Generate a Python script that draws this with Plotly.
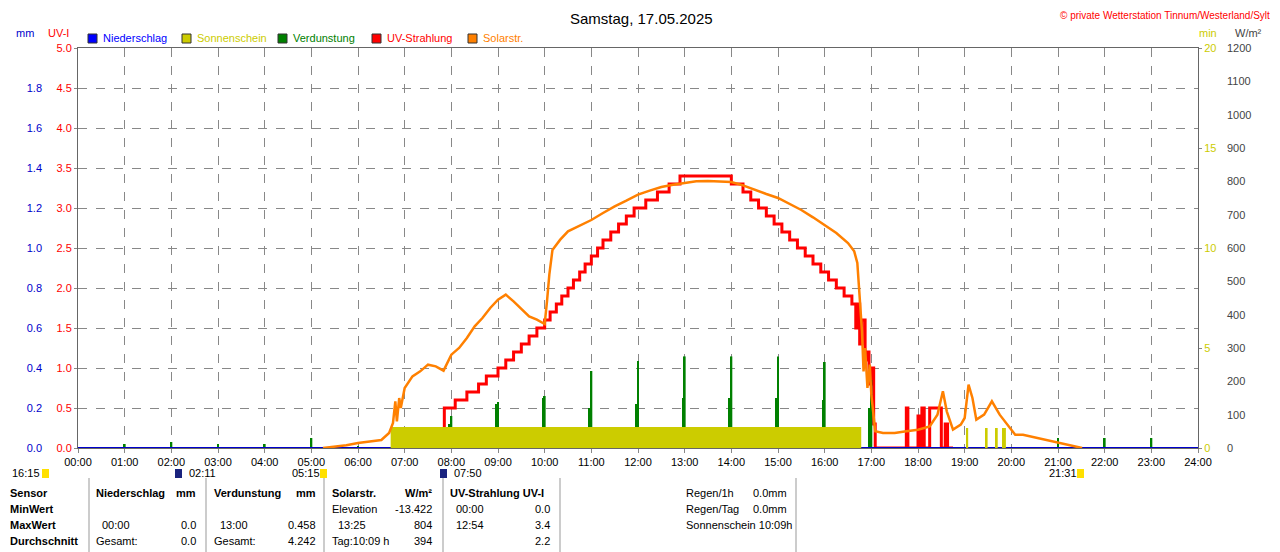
import plotly.graph_objects as go

D = "2025-05-17 "
def T(s): return D + s + ":00" if len(s) == 5 else s

# Solar radiation W/m²
solar_t = ["05:15","05:45","06:00","06:15","06:30","06:40","06:45","06:48","06:50","06:53","06:55","07:00","07:10","07:20","07:30","07:40","07:50","08:00","08:10","08:20","08:30","08:40","08:50","09:00","09:10","09:20","09:30","09:40","09:50","10:00","10:03","10:06","10:10","10:20","10:30","10:45","11:00","11:15","11:30","11:45","12:00","12:15","12:30","12:45","13:00","13:15","13:30","13:45","14:00","14:15","14:30","14:45","15:00","15:15","15:30","15:45","16:00","16:15","16:30","16:38","16:42","16:45","16:48","16:50","16:52","16:55","16:58","17:00","17:02","17:05","17:15","17:30","17:45","18:00","18:15","18:25","18:32","18:37","18:45","18:55","19:00","19:05","19:10","19:15","19:25","19:30","19:35","19:45","19:55","20:05","20:15","20:30","20:45","21:00","21:15","21:31"]
solar_v = [0,8,15,20,24,45,75,140,80,150,120,180,215,230,250,245,232,280,300,330,365,390,420,445,460,440,418,395,385,372,440,520,594,625,650,668,684,705,725,742,760,772,783,790,795,800,801,800,798,788,774,762,750,733,714,692,669,645,615,590,555,444,350,230,300,180,250,160,110,50,45,45,50,55,65,100,170,110,55,70,90,190,150,85,100,120,140,100,70,40,40,32,25,18,8,0]

# UV index (step)
uv_t = ["07:50","07:51","08:05","08:20","08:35","08:45","09:00","09:10","09:20","09:30","09:40","09:50","10:00","10:07","10:15","10:22","10:30","10:37","10:45","10:52","11:00","11:08","11:15","11:25","11:35","11:45","11:55","12:10","12:25","12:40","12:54","14:00","14:15","14:25","14:35","14:45","14:55","15:05","15:15","15:25","15:35","15:45","15:55","16:05","16:15","16:25","16:35","16:40","16:42","16:45","16:48","16:52","16:55","16:57","17:00","17:03","17:05","17:45","17:47","18:00","18:02","18:05","18:08","18:15","18:30","18:35","18:38","18:45"]
uv_v = [0.0,0.5,0.6,0.7,0.8,0.9,1.0,1.1,1.2,1.3,1.4,1.5,1.6,1.7,1.8,1.9,2.0,2.1,2.2,2.3,2.4,2.5,2.6,2.7,2.8,2.9,3.0,3.1,3.2,3.3,3.4,3.3,3.2,3.1,3.0,2.9,2.8,2.7,2.6,2.5,2.4,2.3,2.2,2.1,2.0,1.9,1.8,1.5,1.8,1.3,1.6,1.1,1.2,0.8,1.0,0.3,0.0,0.5,0.0,0.4,0.0,0.5,0.0,0.5,0.0,0.3,0.0,0.0]

# Evaporation mm (hourly spikes)
evap_t = ["01:00","02:00","03:00","04:00","05:00","06:00","07:00","08:00","09:00","10:00","11:00","12:00","13:00","14:00","15:00","16:00","17:00","22:00","23:00","21:00"]
evap_v = [0.02,0.03,0.02,0.02,0.05,0.01,0.055,0.16,0.23,0.26,0.385,0.435,0.458,0.458,0.458,0.43,0.34,0.05,0.05,0.05]
evap2_t = ["08:58","09:58","10:58","11:58","12:58","13:58","14:58","15:58","16:58","07:58"]
evap2_v = [0.22,0.25,0.2,0.22,0.25,0.25,0.25,0.24,0.2,0.12]

# Sunshine minutes
sun_t = ["06:42","19:02","19:27","19:40","19:48"]
sun_v = [1.05, 1.0, 1.0, 1.0, 1.0]
sun_w = [605*60000, 150000, 150000, 150000, 300000]

rain_v = [0, 0]
hours = ["%02d:00" % h for h in range(25)]

fig = go.Figure()
fig.add_trace(go.Bar(x=[T(t) for t in sun_t], y=sun_v, width=sun_w, offset=0, marker_color="#CCCC00", marker_line_width=0, yaxis="y3"))
fig.add_trace(go.Bar(x=[T(t) for t in evap_t], y=evap_v, width=150000, marker_color="#008000", marker_line_width=0, yaxis="y2"))
fig.add_trace(go.Bar(x=[T(t) for t in evap2_t], y=evap2_v, width=150000, marker_color="#008000", marker_line_width=0, yaxis="y2"))
fig.add_trace(go.Scatter(x=[D+"00:00:00", "2025-05-18 00:00:00"], y=rain_v, mode="lines", line=dict(color="#0000CC", width=2), yaxis="y2"))
fig.add_trace(go.Scatter(x=[T(t) for t in solar_t], y=solar_v, mode="lines", line=dict(color="#FF8000", width=2.5), yaxis="y4"))
fig.add_trace(go.Scatter(x=[T(t) for t in uv_t], y=uv_v, mode="lines", line=dict(color="#FF0000", width=3, shape="hv"), yaxis="y"))

OFF = 8
W, H = 1280 - OFF, 552 - OFF
def px(x): return (x - OFF) / W
def py(y): return 1 - (y - OFF) / H

grid = dict(showgrid=True, gridcolor="#888", griddash="dash", gridwidth=1)
tf = dict(family="Liberation Sans", size=11)

fig.update_layout(
    width=W, height=H, margin=dict(l=0, r=0, t=0, b=0, autoexpand=False),
    paper_bgcolor="white", plot_bgcolor="white", showlegend=False, barmode="overlay",
    font=tf,
    xaxis=dict(domain=[px(78), px(1198)], type="date", range=[D+"00:00:00", "2025-05-18 00:00:00"], automargin=False,
               tickvals=[D+h+":00" if h != "24:00" else "2025-05-18 00:00:00" for h in hours], ticktext=hours,
               ticks="outside", ticklen=4, tickcolor="#888", showline=True, linecolor="#666", mirror=True,
               tickfont=dict(color="black", **tf), **grid),
    yaxis=dict(domain=[py(448), py(48)], range=[0, 5], tickvals=[i*0.5 for i in range(11)], automargin=False,
               tickformat=".1f", tickfont=dict(color="red", **tf), showline=True, linecolor="#666", mirror=True,
               ticks="outside", ticklen=3, tickcolor="#888", **grid, zeroline=False),
    yaxis2=dict(overlaying="y", range=[0, 2], anchor="free", position=px(42), side="left", automargin=False,
                tickvals=[i*0.2 for i in range(10)], tickformat=".1f", showgrid=False, zeroline=False,
                tickfont=dict(color="#0000CC", **tf)),
    yaxis3=dict(overlaying="y", range=[0, 20], anchor="x", side="right", tickvals=[0, 5, 10, 15, 20], automargin=False,
                showgrid=False, zeroline=False, ticks="outside", ticklen=3, tickcolor="#888",
                tickfont=dict(color="#CCCC00", **tf)),
    yaxis4=dict(overlaying="y", range=[0, 1200], anchor="free", position=px(1226), side="right", automargin=False,
                tickvals=list(range(0, 1201, 100)), showgrid=False, zeroline=False,
                tickfont=dict(color="#444", **tf)),
)

ann = []
def A(x, y, text, color="black", xa="left", size=11, bold=False):
    ann.append(dict(x=px(x), y=py(y), xref="paper", yref="paper", text=("<b>%s</b>" % text if bold else text),
                    showarrow=False, xanchor=xa, yanchor="middle", font=dict(color=color, size=size, family="Liberation Sans")))

A(641, 18, "Samstag, 17.05.2025", xa="center", size=15)
A(1272, 16, "© private Wetterstation Tinnum/Westerland/Sylt", color="red", xa="right", size=10)
A(14, 33, "mm", color="#0000CC")
A(46, 33, "UV-I", color="red")
A(1197, 33, "min", color="#CCCC00")
A(1233, 33, "W/m²", color="#444")

shapes = []
leg = [(88, "Niederschlag", "#0000FF"), (182, "Sonnenschein", "#CCCC00"), (278, "Verdunstung", "#008000"),
       (372, "UV-Strahlung", "#FF0000"), (468, "Solarstr.", "#FF8000")]
for x, t, c in leg:
    shapes.append(dict(type="rect", xref="paper", yref="paper", x0=px(x), x1=px(x+9), y0=py(43), y1=py(34),
                       fillcolor=c, line=dict(color="#333", width=1)))
    A(x+13, 38, t, color=c)

for x, t in [(10, "16:15"), (187, "02:11"), (290, "05:15"), (452, "07:50"), (1047, "21:31")]:
    A(x, 473, t)
for x, c in [(42, "#FFE000"), (175, "#1a237e"), (320, "#FFE000"), (440, "#1a237e"), (1077, "#FFE000")]:
    shapes.append(dict(type="rect", xref="paper", yref="paper", x0=px(x), x1=px(x+7), y0=py(478), y1=py(469),
                       fillcolor=c, line=dict(width=0)))

A(8, 493, "Sensor", bold=True); A(8, 509, "MinWert", bold=True); A(8, 525, "MaxWert", bold=True); A(8, 541, "Durchschnitt", bold=True)
A(94, 493, "Niederschlag", bold=True); A(198, 493, "mm", xa="right", bold=True)
A(212, 493, "Verdunstung", bold=True); A(318, 493, "mm", xa="right", bold=True)
A(330, 493, "Solarstr.", bold=True); A(434, 493, "W/m²", xa="right", bold=True)
A(448, 493, "UV-Strahlung UV-I", bold=True)
A(100, 525, "00:00"); A(198, 525, "0.0", xa="right")
A(94, 541, "Gesamt:"); A(198, 541, "0.0", xa="right")
A(218, 525, "13:00"); A(318, 525, "0.458", xa="right")
A(212, 541, "Gesamt:"); A(318, 541, "4.242", xa="right")
A(330, 509, "Elevation"); A(434, 509, "-13.422", xa="right")
A(336, 525, "13:25"); A(434, 525, "804", xa="right")
A(330, 541, "Tag:10:09 h"); A(434, 541, "394", xa="right")
A(454, 509, "00:00"); A(552, 509, "0.0", xa="right")
A(454, 525, "12:54"); A(552, 525, "3.4", xa="right")
A(552, 541, "2.2", xa="right")
A(684, 493, "Regen/1h"); A(789, 493, "0.0mm", xa="right")
A(684, 509, "Regen/Tag"); A(789, 509, "0.0mm", xa="right")
A(684, 525, "Sonnenschein 10:09h")
for x in [89, 206, 324, 443, 560, 796]:
    shapes.append(dict(type="line", xref="paper", yref="paper", x0=px(x), x1=px(x), y0=0, y1=py(478),
                       line=dict(color="#999", width=1)))

fig.update_layout(annotations=ann, shapes=shapes)
fig.write_html("out.html")
